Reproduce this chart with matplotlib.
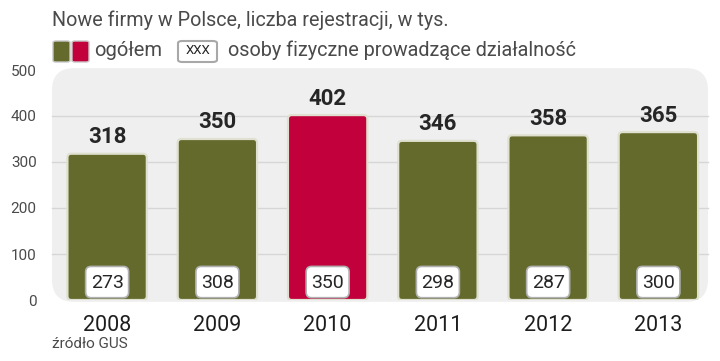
import matplotlib
matplotlib.use("Agg")
import matplotlib.pyplot as plt
from matplotlib.patches import FancyBboxPatch

years = ["2008", "2009", "2010", "2011", "2012", "2013"]
total = [318, 350, 402, 346, 358, 365]
persons = [273, 308, 350, 298, 287, 300]
highlight = "2010"

title = "Nowe firmy w Polsce, liczba rejestracji, w tys."
legend_total = "ogółem"
legend_persons = "osoby fizyczne prowadzące działalność"
source = "źródło GUS"

GREEN = "#636a2c"
RED = "#c2003b"
PANEL = "#efefef"
GRID = "#d6d6d6"
TXT = "#4a4a4a"
DARK = "#262626"

W, H = 720, 361
plt.rcParams['font.family'] = ['Roboto', 'DejaVu Sans']

fig = plt.figure(figsize=(W / 100, H / 100), dpi=100)
fig.patch.set_facecolor("white")


def fx(x):
    return x / W


def fy(y):
    return 1 - y / H


# axes: y=0 at px 300, y=500 at px 70, x from px 52 to 708
ax = fig.add_axes([fx(52), fy(300), fx(708) - fx(52), fy(70) - fy(300)])
ax.set_xlim(-0.5, 5.45)
ax.set_ylim(0, 500)
for s in ax.spines.values():
    s.set_visible(False)

# px per unit
ux = 656 / 5.95
uy = 230 / 500
aspect = ux / uy

panel = FancyBboxPatch((-0.5, -4), 5.95, 508,
                       boxstyle="round,pad=0,rounding_size=0.2",
                       mutation_aspect=aspect, facecolor=PANEL,
                       edgecolor="none", zorder=0, clip_on=False)
ax.add_patch(panel)
for g in [100, 200, 300, 400]:
    ax.plot([-0.5, 5.45], [g, g], color=GRID, lw=1, zorder=0.5, clip_on=False)

bw = 0.72
for i, (yr, t, p) in enumerate(zip(years, total, persons)):
    col = RED if yr == highlight else GREEN
    bar = FancyBboxPatch((i - bw / 2, 0), bw, t,
                         boxstyle="round,pad=0,rounding_size=0.035",
                         mutation_aspect=aspect, facecolor=col,
                         edgecolor="#dfe0cf", lw=1.6, zorder=2)
    ax.add_patch(bar)
    ax.annotate(str(t), (i, t), xytext=(0, 4), textcoords="offset points",
                ha="center", va="bottom", fontsize=16, fontweight="bold",
                color=DARK, zorder=5)
    bx = 0.39
    box = FancyBboxPatch((i - bx / 2, 5), bx, 68,
                         boxstyle="round,pad=0,rounding_size=0.05",
                         mutation_aspect=aspect, facecolor="white",
                         edgecolor="#b0b0b0", lw=1.2, zorder=3)
    ax.add_patch(box)
    ax.text(i, 38, str(p), ha="center", va="center", fontsize=14,
            color=DARK, zorder=4)

ax.set_yticks([0, 100, 200, 300, 400, 500])
ax.set_yticklabels(["0", "100", "200", "300", "400", "500"])
ax.set_xticks(range(len(years)))
ax.set_xticklabels(years)
ax.tick_params(axis="y", length=0, pad=11, labelsize=11, labelcolor=TXT)
ax.tick_params(axis="x", length=0, pad=11, labelsize=15.5, labelcolor="#1e1e1e")

# header
fig.text(fx(52), fy(20), title, ha="left", va="center", fontsize=14.2,
         color=TXT)
sq_g = FancyBboxPatch((fx(53), fy(62)), fx(17), fy(41) - fy(62),
                      boxstyle="round,pad=0,rounding_size=0.004",
                      transform=fig.transFigure, facecolor=GREEN,
                      edgecolor="#c8c8c8", lw=1)
sq_r = FancyBboxPatch((fx(72), fy(62)), fx(17), fy(41) - fy(62),
                      boxstyle="round,pad=0,rounding_size=0.004",
                      transform=fig.transFigure, facecolor=RED,
                      edgecolor="#c8c8c8", lw=1)
fig.patches.extend([sq_g, sq_r])
fig.text(fx(94), fy(50), legend_total, ha="left", va="center", fontsize=14.5,
         color=TXT)
lb = FancyBboxPatch((fx(178), fy(62)), fx(39), fy(41) - fy(62),
                    boxstyle="round,pad=0,rounding_size=0.006",
                    transform=fig.transFigure, facecolor="white",
                    edgecolor="#a8a8a8", lw=1.5)
fig.patches.append(lb)
fig.text(fx(197.5), fy(51), "XXX", ha="center", va="center", fontsize=9.5,
         color=DARK)
fig.text(fx(228), fy(50), legend_persons, ha="left", va="center",
         fontsize=14.3, color=TXT)

fig.text(fx(52), fy(344), source, ha="left", va="center", fontsize=11,
         color=TXT)

fig.savefig("out.png", dpi=100, facecolor="white")
